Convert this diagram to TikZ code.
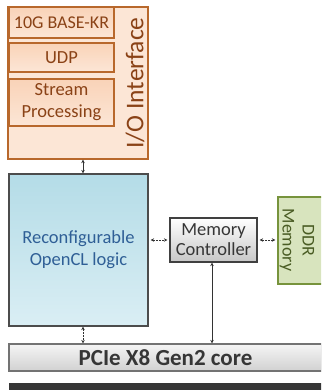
\documentclass[tikz,border=0pt]{standalone}
\usepackage{fontspec}
\setmainfont{Carlito}
\usetikzlibrary{arrows.meta}
\definecolor{iobord}{HTML}{B8682C}
\definecolor{iofill}{HTML}{FCE6D6}
\definecolor{iofillb}{HTML}{F9D3B8}
\definecolor{iotext}{HTML}{8A4216}
\definecolor{bluetop}{HTML}{B4DCE7}
\definecolor{bluebot}{HTML}{DAEEF4}
\definecolor{bluetext}{HTML}{2F5F96}
\definecolor{ddrfill}{HTML}{D8E4BE}
\definecolor{ddrbord}{HTML}{77933C}
\definecolor{ddrtext}{HTML}{4A5C24}
\definecolor{graytext}{HTML}{363636}
\definecolor{barcol}{HTML}{363636}
\tikzset{
  iobox/.style={draw=iobord, line width=1.3pt, top color=iofillb, bottom color=iofill, text=iotext, inner sep=0pt, align=center},
  arr/.style={draw=black!80, line width=0.7pt, {Stealth[length=3.5pt,width=3.5pt]}-{Stealth[length=3.5pt,width=3.5pt]}},
  darr/.style={arr, dash pattern=on 2pt off 1pt},
}
\begin{document}
\begin{tikzpicture}[x=1pt,y=-1pt]
\useasboundingbox (0,0) rectangle (321,390);
\clip (0,0) rectangle (321,390);
% I/O interface
\node[draw=iobord, line width=1.3pt, fill=iofill, minimum width=140pt, minimum height=152pt, inner sep=0pt] (io) at (78,83) {};
\node[iobox, minimum width=105pt, minimum height=31pt, font=\fontsize{18}{20}\selectfont] (kr) at (61.5,22.5) {10G BASE-KR};
\node[iobox, minimum width=105pt, minimum height=29pt, font=\fontsize{18.5}{20}\selectfont] (udp) at (61.5,57.5) {UDP};
\node[iobox, minimum width=105pt, minimum height=47pt, font=\fontsize{18.5}{22}\selectfont] (sp) at (61.5,102.5) {Stream\\Processing};
\node[rotate=90, text=iotext, font=\fontsize{25.5}{28}\selectfont, inner sep=0pt] (iolab) at (135,83) {I/O Interface};
% OpenCL logic
\node[draw=black!70, line width=1.2pt, top color=bluetop, bottom color=bluebot, minimum width=139pt, minimum height=152pt, inner sep=0pt, text=bluetext, align=center, font=\fontsize{18.5}{22}\selectfont] (blue) at (78.5,250) {Reconfigurable\\OpenCL logic};
% Memory controller
\node[draw=black!75, line width=1.2pt, top color=white, bottom color=black!22, minimum width=87pt, minimum height=44pt, inner sep=0pt, text=graytext, align=center, font=\fontsize{18.5}{20}\selectfont] (mc) at (213.5,240) {Memory\\Controller};
% DDR memory
\node[draw=ddrbord, line width=1.3pt, fill=ddrfill, minimum width=46pt, minimum height=87pt, inner sep=0pt] (ddr) at (301,240.5) {};
\node[rotate=-90, text=ddrtext, align=center, font=\fontsize{18}{20}\selectfont, inner sep=0pt] (ddrlab) at (297,240) {DDR\\Memory};
% PCIe
\node[draw=black!55, line width=1.2pt, top color=black!4, bottom color=black!18, minimum width=313pt, minimum height=27pt, inner sep=0pt, text=graytext, font=\bfseries\fontsize{23}{25}\selectfont] (pcie) at (165.5,357.5) {PCIe X8 Gen2 core};
% dark bar
\node[fill=barcol, minimum width=313pt, minimum height=9pt, inner sep=0pt] (bar) at (165.5,387.5) {};
% connectors
\coordinate (vx) at (83,0);
\draw[arr] (io.south -| vx) -- (blue.north -| vx);
\draw[darr] (blue.south -| vx) -- (pcie.north -| vx);
\draw[darr, shorten <=2pt, shorten >=2pt] (blue.east |- mc.west) -- (mc.west);
\draw[darr, shorten <=2pt, shorten >=2pt] (mc.east) -- (ddr.west |- mc.east);
\draw[arr] (mc.south -| 212,0) -- (pcie.north -| 212,0);
\end{tikzpicture}
\end{document}
